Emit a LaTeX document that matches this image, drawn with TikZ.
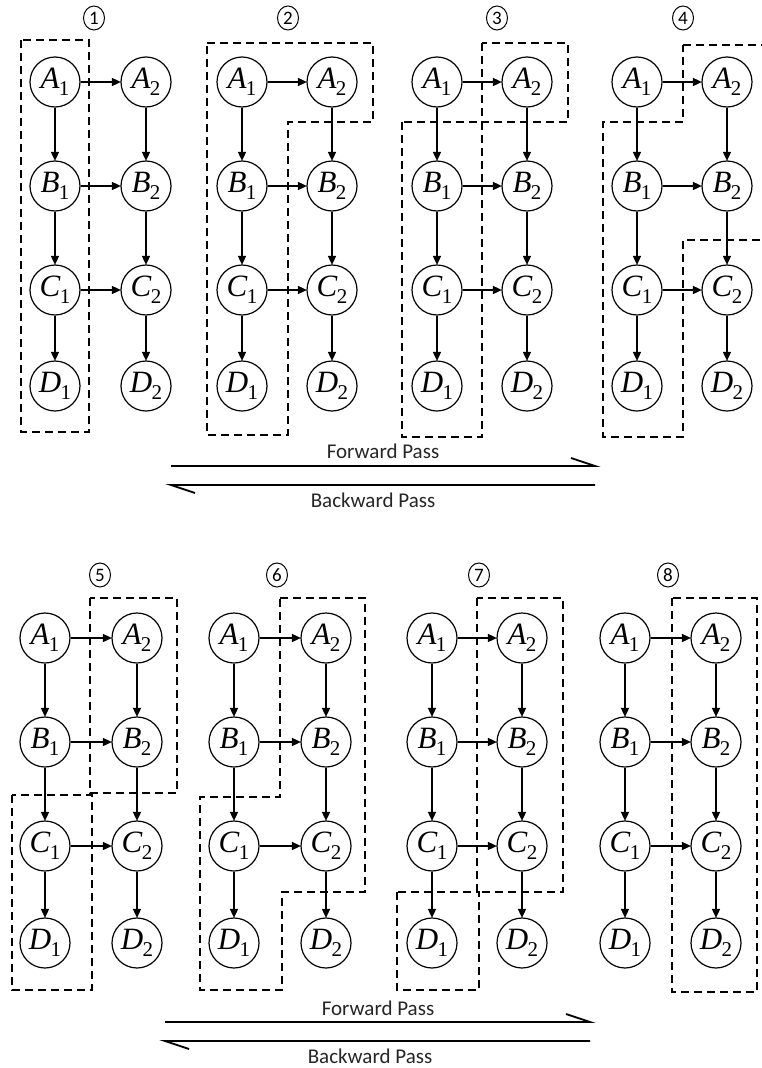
\documentclass[tikz,border=0pt]{standalone}
\usepackage{fontspec}
\setmainfont{Carlito}
\newfontfamily\labfont{Liberation Serif}
\usetikzlibrary{arrows.meta,shapes.geometric}
\tikzset{
  nd/.style={circle, draw, line width=1.2pt, minimum size=50pt, inner sep=0pt},
  arr/.style={line width=1.6pt, -{Triangle[length=9pt,width=8pt]}, shorten >=-0.5pt},
  zone/.style={line width=1.7pt, dash pattern=on 8pt off 5pt},
  num/.style={ellipse, draw, line width=1pt, minimum width=21pt, minimum height=24pt,
              inner sep=0pt, font=\fontsize{19}{20}\selectfont},
  passtxt/.style={font=\fontsize{21}{23}\selectfont, inner sep=0pt, text=black!85},
  passline/.style={line width=1.8pt}
}
\newcommand\lab[2]{{\labfont\itshape\fontsize{31}{33}\selectfont #1}\kern-0.5pt\raisebox{-7pt}{\labfont\fontsize{21}{22}\selectfont #2}}
\newcommand\mypanel[7]{%
  \node[nd] (#1A1) at (#2,#4) {\lab{A}{1}};
  \node[nd] (#1A2) at (#3,#4) {\lab{A}{2}};
  \node[nd] (#1B1) at (#2,#5) {\lab{B}{1}};
  \node[nd] (#1B2) at (#3,#5) {\lab{B}{2}};
  \node[nd] (#1C1) at (#2,#6) {\lab{C}{1}};
  \node[nd] (#1C2) at (#3,#6) {\lab{C}{2}};
  \node[nd] (#1D1) at (#2,#7) {\lab{D}{1}};
  \node[nd] (#1D2) at (#3,#7) {\lab{D}{2}};
  \draw[arr] (#1A1) -- (#1B1);
  \draw[arr] (#1B1) -- (#1C1);
  \draw[arr] (#1C1) -- (#1D1);
  \draw[arr] (#1A2) -- (#1B2);
  \draw[arr] (#1B2) -- (#1C2);
  \draw[arr] (#1C2) -- (#1D2);
  \draw[arr] (#1A1) -- (#1A2);
  \draw[arr] (#1B1) -- (#1B2);
  \draw[arr] (#1C1) -- (#1C2);
}
\begin{document}
\begin{tikzpicture}[x=1pt, y=-1pt]
\clip (0,0) rectangle (762,1068);
\fill[white] (0,0) rectangle (762,1068);

% ---------- top row ----------
\mypanel{p1}{55}{146}{82}{186}{290}{386}
\mypanel{p2}{242}{332}{82}{186}{290}{386}
\mypanel{p3}{437}{527}{82}{186}{290}{386}
\mypanel{p4}{637}{727}{82}{186}{290}{386}

\node[num] (n1) at (94,18) {1};
\node[num] (n2) at (288,18) {2};
\node[num] (n3) at (497,18) {3};
\node[num] (n4) at (683,18) {4};

\draw[zone] (21,40) rectangle (89,432);
\draw[zone] (207,43) -- (373,43) -- (373,122) -- (288,122) -- (288,435) -- (207,435) -- cycle;
\draw[zone] (482,43) rectangle (568,122);
\draw[zone] (402,122) rectangle (482,437);
\draw[zone] (683,45) -- (780,45) -- (780,240) -- (683,240) -- (683,437) -- (603,437) -- (603,122) -- (683,122) -- cycle;

\coordinate (f1L) at (171,466);
\coordinate (f1R) at (595,466);
\coordinate (b1L) at (171,485);
\coordinate (b1R) at (595,485);
\draw[passline] (f1L) -- (f1R) -- ++(-24,-8);
\draw[passline] (b1R) -- (b1L) -- ++(24,8);
\node[passtxt] (ft1) at (383,451) {Forward Pass};
\node[passtxt] (bt1) at (373,500) {Backward Pass};

% ---------- bottom row ----------
\mypanel{p5}{45}{137}{638}{742}{846}{943}
\mypanel{p6}{234}{326}{638}{742}{846}{943}
\mypanel{p7}{432}{522}{638}{742}{846}{943}
\mypanel{p8}{625}{716}{638}{742}{846}{943}

\node[num] (n5) at (100,575) {5};
\node[num] (n6) at (277,575) {6};
\node[num] (n7) at (479,575) {7};
\node[num] (n8) at (668,575) {8};

\draw[zone] (90,598) rectangle (177,793);
\draw[zone] (12,795) rectangle (92,990);
\draw[zone] (280,598) -- (365,598) -- (365,892) -- (282,892) -- (282,990) -- (200,990) -- (200,797) -- (280,797) -- cycle;
\draw[zone] (477,598) rectangle (563,892);
\draw[zone] (397,892) rectangle (479,990);
\draw[zone] (672,598) rectangle (757,992);

\coordinate (f2L) at (165,1022);
\coordinate (f2R) at (590,1022);
\coordinate (b2L) at (165,1041);
\coordinate (b2R) at (590,1041);
\draw[passline] (f2L) -- (f2R) -- ++(-24,-8);
\draw[passline] (b2R) -- (b2L) -- ++(24,8);
\node[passtxt] (ft2) at (378,1008) {Forward Pass};
\node[passtxt] (bt2) at (370,1056) {Backward Pass};
\end{tikzpicture}
\end{document}
